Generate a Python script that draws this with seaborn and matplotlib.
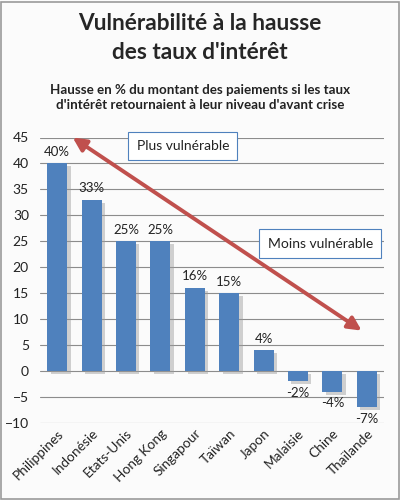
import matplotlib
matplotlib.use("Agg")
import matplotlib.pyplot as plt
import matplotlib.patheffects as pe
import seaborn as sns
import pandas as pd

pays = ["Philippines", "Indonésie", "Etats-Unis", "Hong Kong", "Singapour",
        "Taïwan", "Japon", "Malaisie", "Chine", "Thaïlande"]
hausse = [40, 33, 25, 25, 16, 15, 4, -2, -4, -7]
yticks = list(range(-10, 50, 5))

df = pd.DataFrame({"pays": pays, "hausse": hausse})

sns.set_style("white")
plt.rcParams['font.family'] = ['Lato', 'DejaVu Sans']

fig = plt.figure(figsize=(4, 5), dpi=100, facecolor="#fbfbfb")
ax = fig.add_axes([0.1, 0.154, 0.86, 0.571])
ax.set_facecolor("none")

sns.barplot(data=df, x="pays", y="hausse", color="#4f81bd", saturation=1,
            width=0.58, ax=ax, zorder=3, linewidth=0)
for p in ax.patches:
    p.set_path_effects([pe.SimplePatchShadow(offset=(2.5, -2), shadow_rgbFace="#9a9a9a", alpha=0.45),
                        pe.Normal()])

for i, v in enumerate(hausse):
    if v >= 0:
        ax.annotate(f"{v}%", (i, v), xytext=(0, 4), textcoords="offset points",
                    ha="center", va="bottom", fontsize=9.5, color="#222222")
    else:
        ax.annotate(f"{v}%", (i, v), xytext=(0, -4), textcoords="offset points",
                    ha="center", va="top", fontsize=9.5, color="#222222")

ax.set_ylim(-10, 45)
ax.set_xlim(-0.5, len(pays) - 0.5)
ax.set_yticks(yticks)
ax.yaxis.grid(True, color="#8c8c8c", linewidth=0.8, zorder=0)
ax.set_axisbelow(True)
for s in ax.spines.values():
    s.set_visible(False)
ax.tick_params(axis="y", labelsize=10, length=0, pad=8, colors="#222222")
ax.tick_params(axis="x", labelsize=9.8, length=0, pad=3, colors="#222222")
plt.setp(ax.get_xticklabels(), rotation=45, ha="right", rotation_mode="anchor")
ax.set_xlabel("")
ax.set_ylabel("")

# double flèche
ax.annotate("", xy=(0.45, 45), xytext=(8.85, 7.8),
            arrowprops=dict(arrowstyle="<|-|>", color="#c0504d", lw=2.8,
                            mutation_scale=20, shrinkA=0, shrinkB=0), zorder=5)

box = dict(boxstyle="square,pad=0.6", fc="white", ec="#4f81bd", lw=0.8)
fig.text(0.457, 0.708, "Plus vulnérable", fontsize=10, ha="center", va="center",
         bbox=box, color="#222222")
fig.text(0.801, 0.513, "Moins vulnérable", fontsize=10, ha="center", va="center",
         bbox=box, color="#222222")

fig.text(0.5, 0.952, "Vulnérabilité à la hausse", fontsize=16.3, fontweight="bold",
         ha="center", va="center")
fig.text(0.5, 0.895, "des taux d'intérêt", fontsize=16.3, fontweight="bold",
         ha="center", va="center")
fig.text(0.5, 0.82, "Hausse en % du montant des paiements si les taux",
         fontsize=9.6, fontweight="bold", ha="center", va="center", color="#222222")
fig.text(0.5, 0.79, "d'intérêt retournaient à leur niveau d'avant crise",
         fontsize=9.6, fontweight="bold", ha="center", va="center", color="#222222")

fig.patches.append(plt.Rectangle((0.003, 0.003), 0.994, 0.994, transform=fig.transFigure,
                                 fill=False, ec="#9a9a9a", lw=1.2))

fig.savefig("out.png", dpi=100, facecolor=fig.get_facecolor())
